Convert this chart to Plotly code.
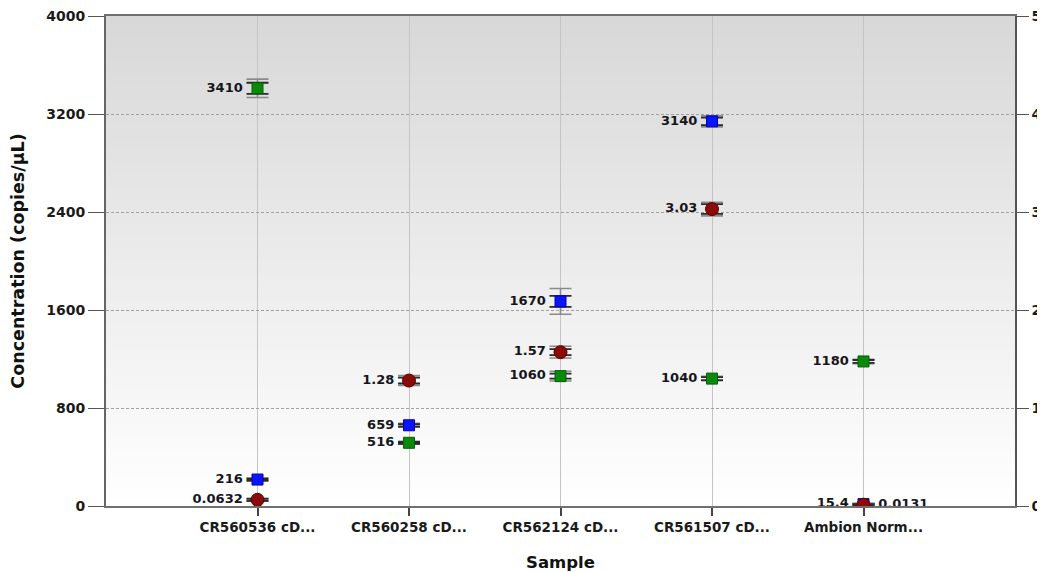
import base64, struct, zlib
import plotly.graph_objects as go

categories = ["CR560536 cD...", "CR560258 cD...", "CR562124 cD...", "CR561507 cD...", "Ambion Norm..."]
green_vals = [3410, 516, 1060, 1040, 1180]
green_err_in = [45, 8, 20, 12, 12]
green_err_out = [75, 12, 40, 18, 18]
blue_vals = [216, 659, 1670, 3140, 15.4]
blue_err_in = [8, 10, 45, 30, 3]
blue_err_out = [12, 16, 105, 45, 5]
red_vals = [0.0632, 1.28, 1.57, 3.03, 0.0131]
red_err_in = [0.01, 0.03, 0.03, 0.05, 0.005]
red_err_out = [0.015, 0.05, 0.06, 0.07, 0.008]
green_labels = ["3410", "516", "1060", "1040", "1180"]
blue_labels = ["216", "659", "1670", "3140", "15.4"]
red_labels = ["0.0632", "1.28", "1.57", "3.03", "0.0131"]
red_textpos = ["middle left", "middle left", "middle left", "middle left", "middle right"]
y_ticks = [0, 800, 1600, 2400, 3200, 4000]
y2_ticks = [0, 1, 2, 3, 4, 5]

x = list(range(len(categories)))

# vertical gradient background image (PNG, 1 x 256)
def gradient_png(top=0xd8, bottom=0xff, h=256):
    raw = b"".join(b"\x00" + bytes([round(top + (bottom - top) * i / (h - 1))]) for i in range(h))
    def chunk(t, d):
        c = struct.pack(">I", len(d)) + t + d
        return c + struct.pack(">I", zlib.crc32(t + d) & 0xffffffff)
    png = b"\x89PNG\r\n\x1a\n" + chunk(b"IHDR", struct.pack(">IIBBBBB", 1, h, 8, 0, 0, 0, 0)) \
        + chunk(b"IDAT", zlib.compress(raw)) + chunk(b"IEND", b"")
    return "data:image/png;base64," + base64.b64encode(png).decode()

lab_font = dict(family="DejaVu Sans", size=13, color="#151520", weight="bold")

fig = go.Figure()

def add_series(vals, e_in, e_out, color, symbol, size, texts, textpos, yaxis, line_color):
    # outer (light) error bars
    fig.add_trace(go.Scatter(
        x=x, y=vals, mode="markers", yaxis=yaxis,
        marker=dict(size=1, color="rgba(0,0,0,0)"),
        error_y=dict(type="data", array=e_out, color="#8a8a8a", thickness=1.6, width=11),
        hoverinfo="skip", showlegend=False))
    # labels (offset past the error-bar caps by a large transparent marker)
    fig.add_trace(go.Scatter(
        x=x, y=vals, mode="markers+text", yaxis=yaxis,
        marker=dict(size=22, color="rgba(0,0,0,0)"),
        text=texts, textposition=textpos, textfont=lab_font,
        hoverinfo="skip", showlegend=False))
    fig.add_trace(go.Scatter(
        x=x, y=vals, mode="markers", yaxis=yaxis,
        marker=dict(size=size, color=color, symbol=symbol, line=dict(color=line_color, width=1)),
        error_y=dict(type="data", array=e_in, color="#2a2a2a", thickness=1.8, width=11),
        showlegend=False))

add_series(green_vals, green_err_in, green_err_out, "#0a8a0a", "square", 11,
           green_labels, "middle left", "y", "#066006")
add_series(blue_vals, blue_err_in, blue_err_out, "#0a14ff", "square", 11,
           blue_labels, "middle left", "y", "#0000b0")
add_series(red_vals, red_err_in, red_err_out, "#8b0a0a", "circle", 13,
           red_labels, red_textpos, "y2", "#5a0000")

tick_font = dict(family="DejaVu Sans", size=14, color="#1a1a1a", weight="bold")

fig.update_layout(
    width=1037, height=564,
    margin=dict(l=98, r=30, t=8, b=66),
    paper_bgcolor="white", plot_bgcolor="white",
    showlegend=False,
    images=[dict(source=gradient_png(), xref="x", yref="y", x=-1, y=4000,
                 sizex=6, sizey=4000, sizing="stretch", layer="below",
                 xanchor="left", yanchor="top")],
    xaxis=dict(range=[-1, 5], tickvals=x, ticktext=categories, automargin=False,
               showgrid=True, gridcolor="#c4c4c4", gridwidth=1,
               showline=True, linecolor="#707070", linewidth=2, mirror=True,
               ticks="outside", ticklen=8, tickcolor="#444", tickwidth=1.5,
               ticklabeloverflow="allow",
               tickfont=dict(family="DejaVu Sans", size=13.5, color="#1a1a1a", weight="bold"),
               zeroline=False,
               title=dict(text="Sample", font=dict(family="DejaVu Sans", size=16.5, color="#111", weight="bold"),
                          standoff=24)),
    yaxis=dict(range=[0, 4000], tickvals=y_ticks, showgrid=True, gridcolor="#a0a0a0",
               griddash="3px,2px", gridwidth=1, zeroline=False, automargin=False,
               showline=True, linecolor="#666666", linewidth=2,
               ticks="outside", ticklen=16, tickcolor="#555", tickwidth=1,
               ticklabeloverflow="allow",
               tickfont=tick_font,
               title=dict(text="Concentration (copies/µL)",
                          font=dict(family="DejaVu Sans", size=17.5, color="#111", weight="bold"),
                          standoff=17)),
    yaxis2=dict(range=[0, 5], tickvals=y2_ticks, overlaying="y", side="right",
                showgrid=False, zeroline=False, automargin=False,
                showline=True, linecolor="#555", linewidth=1.5,
                ticks="outside", ticklen=12, tickcolor="#555", tickwidth=1,
                ticklabeloverflow="allow",
                tickfont=tick_font),
)

fig.write_html("out.html")
